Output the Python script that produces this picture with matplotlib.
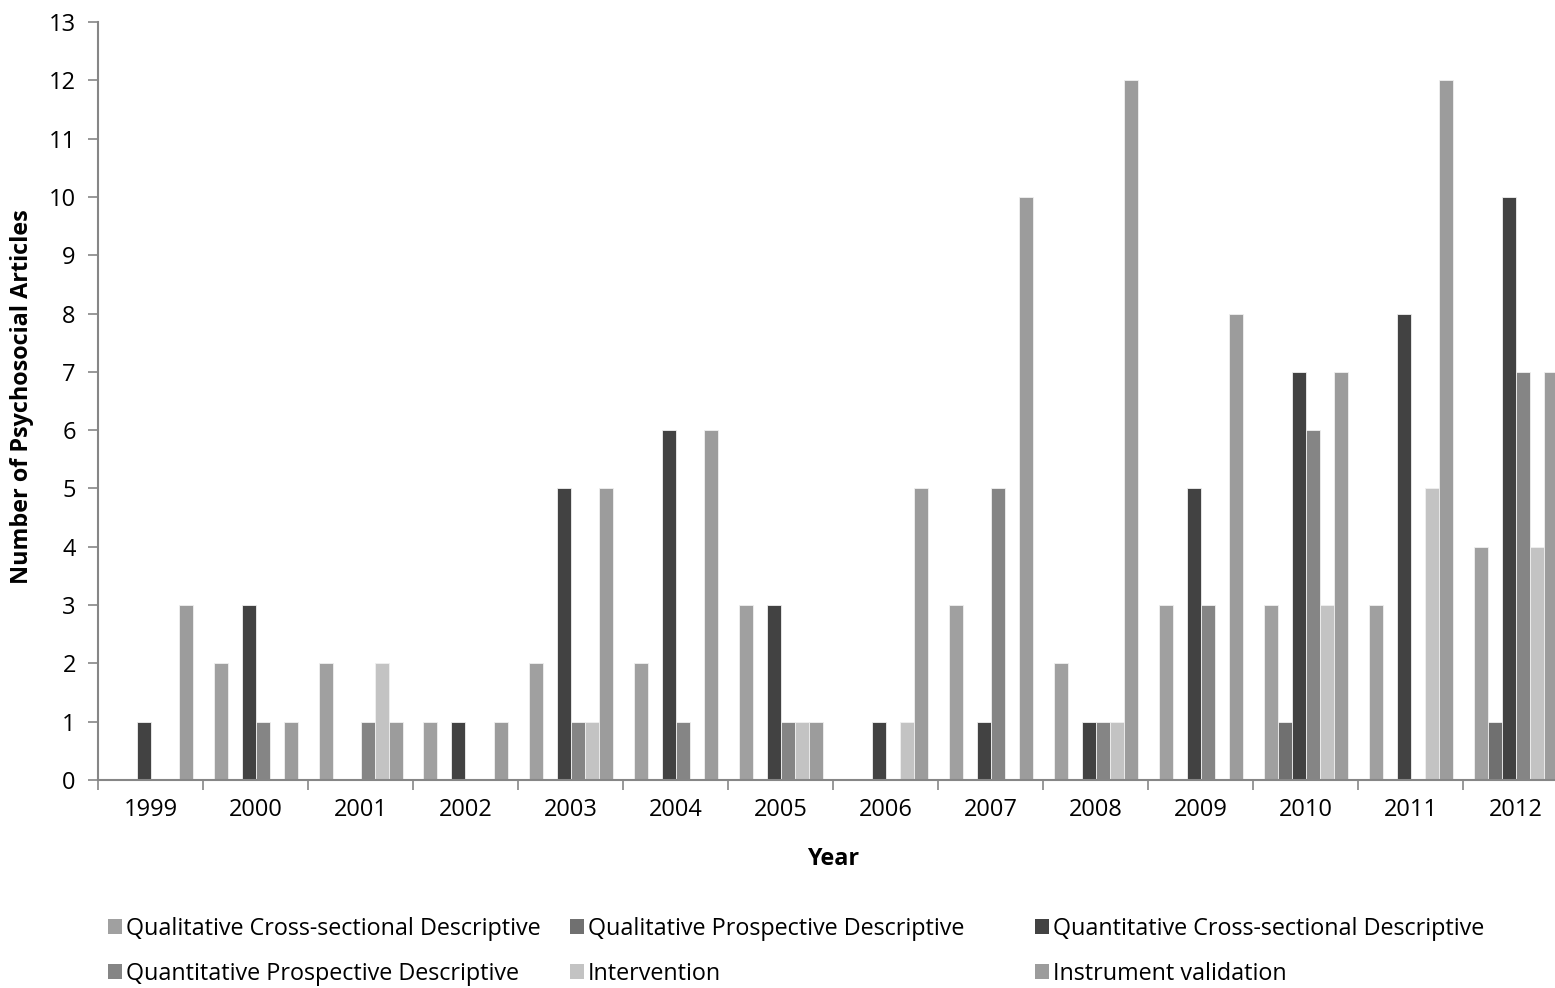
import numpy as np
import matplotlib.pyplot as plt
from matplotlib.patches import Patch

plt.rcParams['font.family'] = ['Open Sans', 'DejaVu Sans']

years = ['1999', '2000', '2001', '2002', '2003', '2004', '2005',
         '2006', '2007', '2008', '2009', '2010', '2011', '2012']

qual_cross = [0, 2, 2, 1, 2, 2, 3, 0, 3, 2, 3, 3, 3, 4]
qual_prosp = [0, 0, 0, 0, 0, 0, 0, 0, 0, 0, 0, 1, 0, 1]
quant_cross = [1, 3, 0, 1, 5, 6, 3, 1, 1, 1, 5, 7, 8, 10]
quant_prosp = [0, 1, 1, 0, 1, 1, 1, 0, 5, 1, 3, 6, 0, 7]
intervention = [0, 0, 2, 0, 1, 0, 1, 1, 0, 1, 0, 3, 5, 4]
instrument = [3, 1, 1, 1, 5, 6, 1, 5, 10, 12, 8, 7, 12, 7]

series = [
    ('Qualitative Cross-sectional Descriptive', qual_cross, '#a0a0a0'),
    ('Qualitative Prospective Descriptive', qual_prosp, '#707070'),
    ('Quantitative Cross-sectional Descriptive', quant_cross, '#424242'),
    ('Quantitative Prospective Descriptive', quant_prosp, '#858585'),
    ('Intervention', intervention, '#c3c3c3'),
    ('Instrument validation', instrument, '#9c9c9c'),
]

fig = plt.figure(figsize=(15.55, 9.88), dpi=100)
ax = fig.add_axes([98 / 1555, 208 / 988, 1470 / 1555, 758 / 988])

x = np.arange(len(years))
w = 14 / 105
for i, (name, vals, col) in enumerate(series):
    ax.bar(x + (i - 2.5) * w, vals, w, color=col, edgecolor='#f0f0f0',
           linewidth=0.6, label=name)

fs = 17
lfs = 16.8
axis_col = '#868686'
ax.set_xlim(-0.5, len(years) - 0.5)
ax.set_ylim(0, 13)
ax.set_yticks(range(0, 14))
ax.set_xticks(x)
ax.set_xticklabels(years)
ax.set_xticks(np.arange(-0.5, len(years)), minor=True)
ax.tick_params(axis='x', which='major', length=0, pad=13, labelsize=fs)
ax.tick_params(axis='x', which='minor', length=7, color=axis_col, width=1.2)
ax.tick_params(axis='y', length=7, color=axis_col, width=1.2, labelsize=fs,
               pad=9)
for s in ['top', 'right']:
    ax.spines[s].set_visible(False)
for s in ['left', 'bottom']:
    ax.spines[s].set_color(axis_col)
    ax.spines[s].set_linewidth(1.5)

ax.set_xlabel('Year', fontsize=lfs, fontweight='bold', labelpad=18)
fig.text(22 / 1555, (988 - 397) / 988, 'Number of Psychosocial Articles',
         rotation=90, fontsize=lfs, fontweight='bold',
         ha='center', va='center')

# legend laid out in three columns of two rows
cols = [(0, 3), (1, 4), (2, 5)]
xs = [108, 570, 1035]
for (a, b), xp in zip(cols, xs):
    handles = [Patch(facecolor=series[k][2], edgecolor='none') for k in (a, b)]
    labels = [series[k][0] for k in (a, b)]
    fig.legend(handles, labels, loc='upper left',
               bbox_to_anchor=(xp / 1555, (988 - 917) / 988),
               frameon=False, fontsize=lfs, handlelength=0.62, handleheight=0.62,
               handletextpad=0.15, labelspacing=0.9, borderaxespad=0,
               borderpad=0)

fig.savefig('out.png', dpi=100)
